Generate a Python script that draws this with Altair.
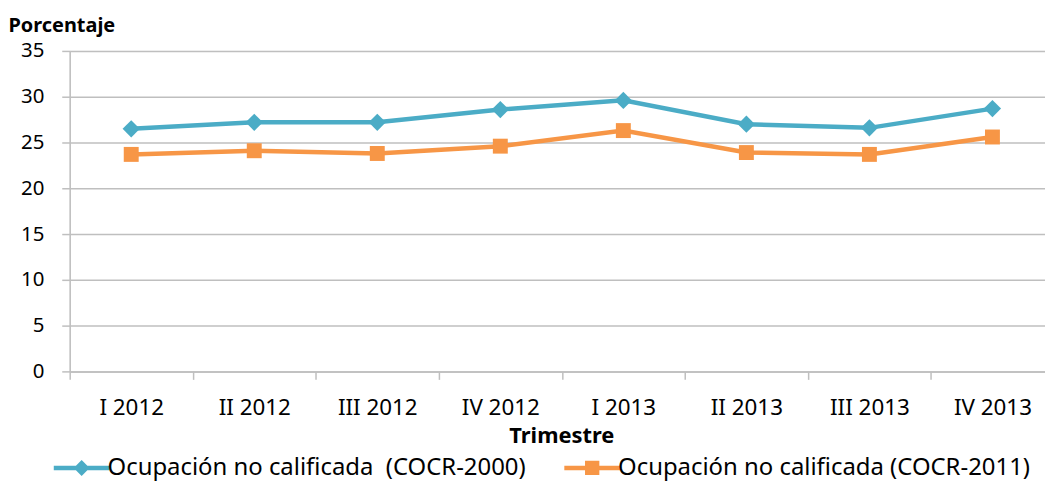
import altair as alt
import pandas as pd

# ---- data ----
quarters = ["I 2012", "II 2012", "III 2012", "IV 2012",
            "I 2013", "II 2013", "III 2013", "IV 2013"]
series_names = ["Ocupación no calificada \u00a0(COCR-2000)",
                "Ocupación no calificada (COCR-2011)"]
cocr2000 = [26.5, 27.2, 27.2, 28.6, 29.6, 27.0, 26.6, 28.7]
cocr2011 = [23.7, 24.1, 23.8, 24.6, 26.3, 23.9, 23.7, 25.6]
y_ticks = [0, 5, 10, 15, 20, 25, 30, 35]

rows = []
for q, v in zip(quarters, cocr2000):
    rows.append({"trimestre": q, "serie": series_names[0], "valor": v})
for q, v in zip(quarters, cocr2011):
    rows.append({"trimestre": q, "serie": series_names[1], "valor": v})
df = pd.DataFrame(rows)

# ---- styles ----
FONT = "Noto Sans"
BLUE, ORANGE = "#4BACC6", "#F79646"
GRID = "#BFBFBF"
TXT = "#000000"

DIAMOND_LEG = "M-1,0L0,-1L1,0L0,1Z M-3.5,-0.28H3.5V0.28H-3.5Z"
SQUARE_LEG = "M-0.9,-0.9H0.9V0.9H-0.9Z M-3.5,-0.28H3.5V0.28H-3.5Z"

x_enc = alt.X(
    "trimestre:N", sort=quarters,
    scale=alt.Scale(type="band", paddingInner=0, paddingOuter=0, range=[0, 989]),
    axis=alt.Axis(
        title="Trimestre", tickBand="extent", labelAngle=0,
        labelFont=FONT, labelFontSize=22.5, labelColor=TXT,
        labelBaseline="alphabetic", labelPadding=35,
        tickSize=8, tickColor=GRID, tickWidth=1.5,
        domainColor=GRID, domainWidth=1.5, grid=False,
        titleFont=FONT, titleFontSize=22, titleFontWeight="bold", titleColor=TXT,
        titleX=494, titleY=71, titleBaseline="alphabetic", titleAlign="center",
    ),
)
y_enc = alt.Y(
    "valor:Q",
    scale=alt.Scale(domain=[0, 35], nice=False),
    axis=alt.Axis(
        values=y_ticks, title="Porcentaje", titleAngle=0,
        titleX=-62, titleY=-20, titleAlign="left", titleBaseline="alphabetic",
        titleFont=FONT, titleFontSize=20, titleFontWeight="bold", titleColor=TXT,
        labelFont=FONT, labelFontSize=20.5, labelColor=TXT, labelPadding=18,
        tickSize=8, tickColor=GRID, tickWidth=1.5,
        domainColor=GRID, domainWidth=1.5,
        grid=True, gridColor=GRID, gridWidth=1.5,
    ),
)

color_scale = alt.Scale(domain=series_names, range=[BLUE, ORANGE])
shape_scale = alt.Scale(domain=series_names, range=[DIAMOND_LEG, SQUARE_LEG])

legend = alt.Legend(
    title=None, orient="none", legendX=0, legendY=407,
    direction="horizontal", columns=2, padding=0,
    labelFont=FONT, labelFontSize=24, labelColor=TXT, labelLimit=1000,
    labelOffset=14, symbolSize=256, symbolStrokeWidth=0,
    columnPadding=38, symbolOpacity=1,
)

base = alt.Chart(df)

legend_layer = base.transform_filter(alt.datum.valor < 0).mark_point(
    filled=True, opacity=1
).encode(
    x=x_enc, y=y_enc,
    color=alt.Color("serie:N", scale=color_scale, legend=legend),
    shape=alt.Shape("serie:N", scale=shape_scale, legend=legend),
)

lines = base.mark_line(strokeWidth=4.5).encode(
    x=x_enc, y=y_enc,
    color=alt.Color("serie:N", scale=color_scale, legend=None),
)

diamonds = base.transform_filter(alt.datum.serie == series_names[0]).mark_point(
    shape="diamond", filled=True, size=300, opacity=1
).encode(
    x=x_enc, y=y_enc,
    color=alt.Color("serie:N", scale=color_scale, legend=None),
)

squares = base.transform_filter(alt.datum.serie == series_names[1]).mark_point(
    shape="square", filled=True, size=225, opacity=1
).encode(
    x=x_enc, y=y_enc,
    color=alt.Color("serie:N", scale=color_scale, legend=None),
)

chart = alt.layer(legend_layer, lines, diamonds, squares).properties(
    width=980, height=322,
    padding={"left": 62, "top": 42, "right": 0, "bottom": 110},
    autosize=alt.AutoSizeParams(type="none"),
).configure_view(stroke=None).configure(background="white")

chart.save("out.html", embed_options={"renderer": "svg", "actions": False})
